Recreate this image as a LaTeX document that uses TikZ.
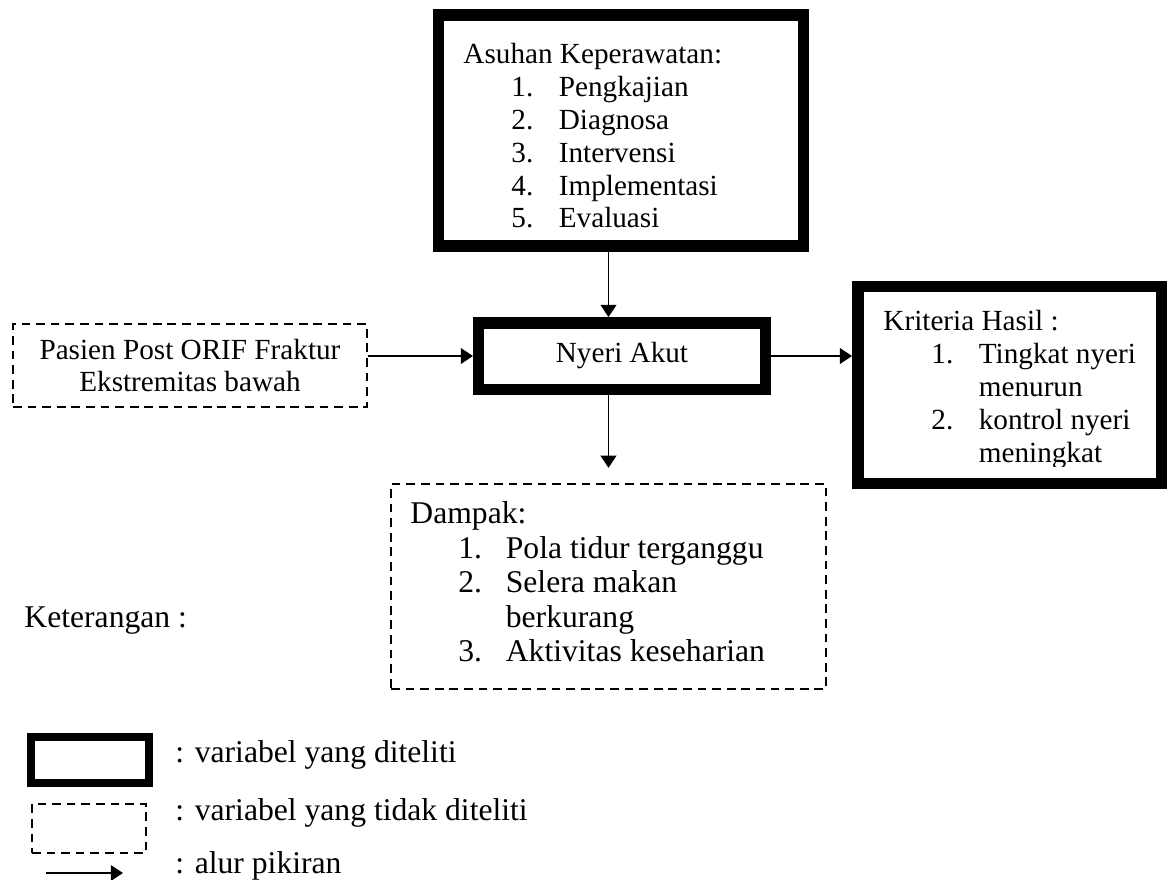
\documentclass[tikz,border=0pt]{standalone}
\usepackage{fontspec}
\setmainfont{Liberation Serif}
\usetikzlibrary{arrows.meta}

% numbered line and its continuation line
\newcommand{\itm}[2]{\hspace*{19.7pt}\makebox[19.5pt][l]{#1}#2}
\newcommand{\cnt}[1]{\hspace*{39.2pt}#1}

\tikzset{
  studied/.style={draw, line width=4.7pt, inner sep=0pt},
  unstudied/.style={draw, line width=0.8pt, dash pattern=on 3.6pt off 2.4pt, inner sep=0pt},
  flow/.style={line width=0.8pt, -{Triangle[length=5pt,width=6.4pt]}},
  txt/.style={inner sep=0pt, align=left, font=\fontsize{12}{13.5}\selectfont},
  bigtxt/.style={txt, font=\fontsize{13}{14.2}\selectfont},
}

\begin{document}
\begin{tikzpicture}[x=0.411pt, y=-0.411pt]
        \useasboundingbox (0,0) rectangle (1168,879);

        % boxes
        \node[studied, minimum width=149.8pt, minimum height=95.1pt] (asuhan) at (621,130.5) {};
        \node[studied, minimum width=117.8pt, minimum height=27.3pt, font=\fontsize{12}{13.5}\selectfont] (nyeri) at (622,356) {Nyeri Akut};
        \node[studied, minimum width=124.9pt, minimum height=80.8pt] (kriteria) at (1009.75,385) {};
        \node[unstudied, minimum width=145.5pt, minimum height=34.1pt, align=center, font=\fontsize{12}{13.2}\selectfont] (pasien) at (190,365.5) {Pasien Post ORIF Fraktur\\Ekstremitas bawah};
        \node[unstudied, minimum width=178.8pt, minimum height=84.3pt] (dampak) at (608.5,586.5) {};

        % texts in the boxes
        \node[txt, anchor=north west] (asuhantxt) at (463,43) {Asuhan Keperawatan:\\
            \itm{1.}{Pengkajian}\\
            \itm{2.}{Diagnosa}\\
            \itm{3.}{Intervensi}\\
            \itm{4.}{Implementasi}\\
            \itm{5.}{Evaluasi}};
        \begin{scope}
            \clip (860,290) rectangle (1160,466);
            \node[txt, anchor=north west] (kriteriatxt) at (883,310) {Kriteria Hasil :\\
                \itm{1.}{Tingkat nyeri}\\
                \cnt{menurun}\\
                \itm{2.}{kontrol nyeri}\\
                \cnt{meningkat}};
        \end{scope}
        \node[bigtxt, anchor=north west] (dampaktxt) at (410,501) {Dampak:\\
            \itm{1.}{Pola tidur terganggu}\\
            \itm{2.}{Selera makan}\\
            \cnt{berkurang}\\
            \itm{3.}{Aktivitas keseharian}};

        % alur
        \draw[flow] (asuhan.south -| dampak.north) -- (nyeri.north -| dampak.north);
        \draw[flow] (pasien.east |- nyeri.west) -- (nyeri.west);
        \draw[flow] (nyeri.east) -- (nyeri.east -| kriteria.west);
        \draw[flow, shorten >=6.2pt] (nyeri.south -| dampak.north) -- (dampak.north);

        % keterangan
        \node[bigtxt, anchor=base west] (ket) at (24,627) {Keterangan :};
        \node[studied, line width=3.1pt, minimum width=48.7pt, minimum height=19.1pt] (legstudied) at (90,760) {};
        \node[unstudied, minimum width=46.9pt, minimum height=20.1pt] (legunstudied) at (89,828.5) {};
        \coordinate (alurA) at (46,873);
        \coordinate (alurB) at (123,873);
        \draw[flow] (alurA) -- (alurB);
        \node[bigtxt, anchor=base west] (legstudiedtxt) at (175,762) {: variabel yang diteliti};
        \node[bigtxt, anchor=base west] (legunstudiedtxt) at (175,820) {: variabel yang tidak diteliti};
        \node[bigtxt, anchor=base west] (alurtxt) at (175,873) {: alur pikiran};
\end{tikzpicture}
\end{document}
